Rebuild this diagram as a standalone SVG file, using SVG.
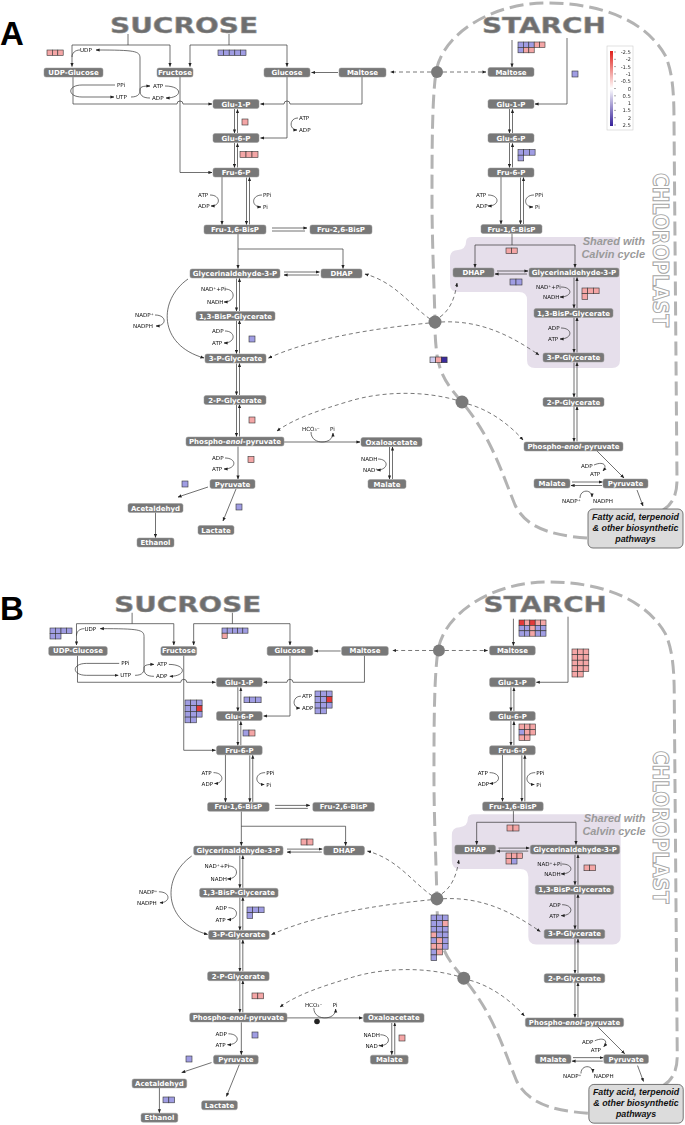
<svg xmlns="http://www.w3.org/2000/svg" xmlns:xlink="http://www.w3.org/1999/xlink" width="685" height="1125" viewBox="0 0 685 1125">
<defs>
<marker id="ah" viewBox="0 0 10 10" refX="9" refY="5" markerWidth="4" markerHeight="4" orient="auto" markerUnits="userSpaceOnUse"><path d="M0,1 L10,5 L0,9 z" fill="#222"/></marker>
<linearGradient id="lg" x1="0" y1="0" x2="0" y2="1"><stop offset="0" stop-color="#e0201b"/><stop offset="0.5" stop-color="#fff"/><stop offset="1" stop-color="#35209a"/></linearGradient>
<filter id="gray" x="0" y="0" width="1" height="1" color-interpolation-filters="sRGB"><feColorMatrix type="saturate" values="0"/></filter>
<style>
.n rect{fill:#787878;stroke:#9a9a9a;stroke-width:.5;rx:2px;ry:2px}
.n text{font-family:"DejaVu Sans",sans-serif;font-weight:bold;font-size:7px;fill:#fff;text-anchor:middle}
.l path{stroke:#333;stroke-width:.7;fill:none}
.l path.a{marker-end:url(#ah)}
.l path.d{stroke:#555;stroke-width:.8;stroke-dasharray:4 3;marker-end:url(#ah)}
.circ{fill:#7a7a7a}
.s{filter:url(#gray)}
.s text{font-family:"DejaVu Sans",sans-serif;font-size:5.6px;fill:#111}
.hm rect{stroke:#333;stroke-width:.6}
.cp{fill:#f4a6a6}.cb{fill:#a09de3}.cr{fill:#e23a3a}.cd{fill:#3b2b9c}.cl{fill:#cfcdf0}
.title{font-family:"DejaVu Sans",sans-serif;font-weight:bold;font-size:20.5px;fill:#6e6e6e;stroke:#9a9a9a;stroke-width:.5}
.chl{font-family:"DejaVu Sans",sans-serif;font-weight:bold;font-size:22px;fill:#fff;stroke:#a5a5a5;stroke-width:1}
.shared{font-family:"Liberation Sans",sans-serif;font-weight:bold;font-style:italic;font-size:11px;fill:#9a9a9a;text-anchor:end}
.fa text{font-family:"Liberation Sans",sans-serif;font-weight:bold;font-style:italic;font-size:8.9px;fill:#111;text-anchor:middle}
.plet{font-family:"Liberation Sans",sans-serif;font-weight:bold;font-size:33px;fill:#000}
.legt{filter:url(#gray)}
.legt text{font-family:"DejaVu Sans",sans-serif;font-size:5.3px;fill:#333;text-anchor:end}
</style>
</defs>
<rect width="685" height="1125" fill="#fff"/>
<text class="plet" x="0" y="45">A</text>
<text class="plet" x="0" y="620">B</text>

<g id="panel-a">
<path id="a-chloro" d="M587,538 C545,535 525,525 515,505 C505,480 500,465 490,445 C480,425 470,412 462,402 C448,386 440,375 437,355 C435,340 435,330 435,322 C434,280 432,240 432,200 C432,150 432,100 436,72 C442,35 490,3 547,3 C600,3 645,20 665,55 C672,70 674,90 674,120 L677,480 C677,495 672,505 663,510" fill="none" stroke="#b3b3b3" stroke-width="3" stroke-dasharray="14 6"/>
<path id="a-calvin" d="M472,237 H612 Q620,237 620,245 V360 Q620,368 612,368 H535 Q527,368 527,360 V300 Q527,292 519,292 H458 Q450,292 450,284 V258 Q450,250 458,250 Q466,249 466,242 Q466,237 472,237 Z" fill="#e6dfeb"/>
<text class="title" x="110" y="33" textLength="148" lengthAdjust="spacingAndGlyphs">SUCROSE</text>
<text class="title" x="482" y="33" textLength="124" lengthAdjust="spacingAndGlyphs">STARCH</text>
<text class="chl" transform="translate(653,173) rotate(90)" textLength="154" lengthAdjust="spacingAndGlyphs">CHLOROPLAST</text>
<text class="shared" x="645" y="245">Shared with</text>
<text class="shared" x="645" y="258">Calvin cycle</text>

<g id="a-connectors" class="l">
<path d="M128,34V45M72,45H170"/>
<path class="a" d="M72,45V66.5"/>
<path class="a" d="M170,45V66.5"/>
<path d="M229,34V45M190,45H287"/>
<path class="a" d="M190,45V66.5"/>
<path class="a" d="M287,45V66.5"/>
<path d="M80,50C75,50 72,53 72,57"/>
<path class="a" d="M140,90V58C140,51 135,50 96,50"/>
<path class="a" d="M131,97C139,97 140,93 140,90C140,87 142,86 150,86"/>
<path d="M140,90C140,95 142,98 150,98"/>
<path class="a" d="M115,85H82C67,85 67,97 82,97H114"/>
<path class="a" d="M165,86C183,86 183,98 166,98"/>
<path class="a" d="M73,77V104H177A3,3 0 0 1 183,104H212"/>
<path class="a" d="M180,77V172.5H212"/>
<path class="a" d="M287,77V138H260.5"/>
<path class="a" d="M298,118C289,118 289,130 297,130"/>
<path class="a" d="M362,77V104H290A3,3 0 0 0 284,104H260.5"/>
<path class="a" d="M338,72.5H311.5"/>
<path class="a" d="M234.5,109V133"/>
<path class="a" d="M237.5,133V109.5"/>
<path class="a" d="M234.5,143V167.5"/>
<path class="a" d="M237.5,167.5V143.5"/>
<path class="a" d="M222,177V224.5"/>
<path class="a" d="M210,195C221,195 221,206 211,206"/>
<path class="a" d="M246.5,177.5V224.5"/>
<path class="a" d="M249.5,224.5V177.5"/>
<path class="a" d="M262,195C251,195 251,207 261,207"/>
<path class="a" d="M272,228H307"/>
<path d="M272,231H305"/>
<path class="a" d="M238,234V268.5"/>
<path class="a" d="M238,249H343V268.5"/>
<path class="a" d="M284,272H319.5"/>
<path class="a" d="M319,275H284"/>
<path class="a" d="M236.5,278.5V311"/>
<path class="a" d="M239.5,311V278.5"/>
<path class="a" d="M225,289C236,289 236,302 224,302"/>
<path class="a" d="M236.5,320.5V353.5"/>
<path class="a" d="M239.5,353.5V320.5"/>
<path class="a" d="M225,331C236,331 236,343 224,343"/>
<path class="a" d="M188,279C158,300 158,345 204,358"/>
<path class="a" d="M155,315C167,315 167,326 156,326"/>
<path class="a" d="M236.5,363.5V395"/>
<path class="a" d="M239.5,395V363.5"/>
<path class="a" d="M236.5,404.5V436.5"/>
<path class="a" d="M239.5,436.5V404.5"/>
<path class="a" d="M238,446.5V479"/>
<path class="a" d="M225,458C237,458 237,469 224,469"/>
<path class="a" d="M284,442H360"/>
<path class="a" d="M311,432C311,440 318,442 322,442C328,442 333,439 333,433"/>
<path class="a" d="M389.5,447V479"/>
<path class="a" d="M392.5,479V447"/>
<path class="a" d="M378,459C389,459 389,470 377,470"/>
<path class="a" d="M208,487L178,497"/>
<path class="a" d="M236,489L223,521"/>
<path class="a" d="M155.5,512.5V537.5"/>
<path class="a" d="M512,40V67"/>
<path class="a" d="M567,38V104H535"/>
<path class="a" d="M509.5,109V133"/>
<path class="a" d="M512.5,133V109.5"/>
<path class="a" d="M509.5,143V167.5"/>
<path class="a" d="M512.5,167.5V143.5"/>
<path class="a" d="M501,177V224"/>
<path class="a" d="M488,195C500,195 500,206 488,206"/>
<path class="a" d="M520.5,177.5V224"/>
<path class="a" d="M523.5,224V177.5"/>
<path class="a" d="M534,195C523,195 523,207 533,207"/>
<path d="M512,233.5V245M475,245H575"/>
<path class="a" d="M475,245V267.5"/>
<path class="a" d="M575,245V267.5"/>
<path class="a" d="M497,271H528"/>
<path class="a" d="M527,274H495"/>
<path class="a" d="M574,277.5V308"/>
<path class="a" d="M577,308V277.5"/>
<path class="a" d="M561,287C573,287 573,297 560,297"/>
<path class="a" d="M574,317.5V352.5"/>
<path class="a" d="M577,352.5V317.5"/>
<path class="a" d="M561,328C573,328 573,339 560,339"/>
<path class="a" d="M574,362.5V397"/>
<path class="a" d="M577,397V362.5"/>
<path class="a" d="M574,406.5V441.5"/>
<path class="a" d="M577,441.5V406.5"/>
<path class="a" d="M597,451L624,478"/>
<path class="a" d="M594,465C603,461 608,465 603,471"/>
<path class="a" d="M572,482H602.5"/>
<path class="a" d="M602,485.5H571"/>
<path class="a" d="M580,498C580,489 592,489 592,497"/>
<path class="a" d="M637,490L643,506"/>
<path class="d" d="M431,72H390.5"/>
<path class="d" d="M443,72H486"/>
<path class="d" d="M430,319C410,305 395,282 365,274"/>
<path class="d" d="M429,323C390,327 320,335 268.5,358"/>
<path class="d" d="M440,317C450,310 455,298 457,283"/>
<path class="d" d="M441,322C480,320 510,335 539,355"/>
<path class="d" d="M456,400C420,390 380,392 350,401C320,410 295,418 277,431"/>
<path class="d" d="M468,404C490,410 510,425 523,440"/>
<circle class="circ" cx="437" cy="72" r="6"/>
<circle class="circ" cx="435" cy="322" r="6.5"/>
<circle class="circ" cx="462" cy="402" r="6.5"/>
</g>

<g id="a-udpglc" class="n"><rect x="44" y="68" width="59" height="9"/><text x="73.5" y="75">UDP-Glucose</text></g>
<g id="a-fructose" class="n"><rect x="157" y="68" width="36" height="9"/><text x="175" y="75">Fructose</text></g>
<g id="a-glucose" class="n"><rect x="264" y="68" width="46" height="9"/><text x="287" y="75">Glucose</text></g>
<g id="a-maltose-c" class="n"><rect x="339" y="68" width="47" height="9"/><text x="362.5" y="75">Maltose</text></g>
<g id="a-glu1p-c" class="n"><rect x="213" y="99.5" width="46" height="9"/><text x="236" y="106.5">Glu-1-P</text></g>
<g id="a-glu6p-c" class="n"><rect x="213" y="133.5" width="46" height="9"/><text x="236" y="140.5">Glu-6-P</text></g>
<g id="a-fru6p-c" class="n"><rect x="213" y="168" width="46" height="9"/><text x="236" y="175">Fru-6-P</text></g>
<g id="a-fbp-c" class="n"><rect x="204" y="225" width="62" height="9"/><text x="235" y="232">Fru-1,6-BisP</text></g>
<g id="a-f26bp" class="n"><rect x="310" y="225" width="62" height="9"/><text x="341" y="232">Fru-2,6-BisP</text></g>
<g id="a-gap-c" class="n"><rect x="190" y="269" width="90" height="9"/><text x="235" y="276">Glycerinaldehyde-3-P</text></g>
<g id="a-dhap-c" class="n"><rect x="321" y="269" width="41" height="9"/><text x="341.5" y="276">DHAP</text></g>
<g id="a-bpg-c" class="n"><rect x="196" y="311.5" width="79" height="9"/><text x="235.5" y="318.5">1,3-BisP-Glycerate</text></g>
<g id="a-pga3-c" class="n"><rect x="205" y="354" width="61" height="9"/><text x="235.5" y="361">3-P-Glycerate</text></g>
<g id="a-pga2-c" class="n"><rect x="204" y="395.5" width="62" height="9"/><text x="235" y="402.5">2-P-Glycerate</text></g>
<g id="a-pep-c" class="n"><rect x="186" y="437" width="98" height="9"/><text x="235" y="444">Phospho-<tspan font-style="italic">enol</tspan>-pyruvate</text></g>
<g id="a-oaa" class="n"><rect x="361" y="437.5" width="61" height="9"/><text x="391.5" y="444.5">Oxaloacetate</text></g>
<g id="a-malate-c" class="n"><rect x="368" y="479.5" width="38" height="9"/><text x="387" y="486.5">Malate</text></g>
<g id="a-pyr-c" class="n"><rect x="210" y="479.5" width="45" height="9"/><text x="232.5" y="486.5">Pyruvate</text></g>
<g id="a-acetald" class="n"><rect x="128" y="503.5" width="55" height="9"/><text x="155.5" y="510.5">Acetaldehyd</text></g>
<g id="a-lactate" class="n"><rect x="198" y="525.5" width="36" height="9"/><text x="216" y="532.5">Lactate</text></g>
<g id="a-ethanol" class="n"><rect x="137" y="538" width="37" height="9"/><text x="155.5" y="545">Ethanol</text></g>
<g id="a-maltose-p" class="n"><rect x="488" y="67.5" width="46" height="9"/><text x="511" y="74.5">Maltose</text></g>
<g id="a-glu1p-p" class="n"><rect x="488" y="99.5" width="46" height="9"/><text x="511" y="106.5">Glu-1-P</text></g>
<g id="a-glu6p-p" class="n"><rect x="488" y="133.5" width="46" height="9"/><text x="511" y="140.5">Glu-6-P</text></g>
<g id="a-fru6p-p" class="n"><rect x="488" y="168" width="46" height="9"/><text x="511" y="175">Fru-6-P</text></g>
<g id="a-fbp-p" class="n"><rect x="481" y="224.5" width="61" height="9"/><text x="511.5" y="231.5">Fru-1,6-BisP</text></g>
<g id="a-dhap-p" class="n"><rect x="453" y="268" width="41" height="9"/><text x="473.5" y="275">DHAP</text></g>
<g id="a-gap-p" class="n"><rect x="529" y="268" width="90" height="9"/><text x="574" y="275">Glycerinaldehyde-3-P</text></g>
<g id="a-bpg-p" class="n"><rect x="534" y="308.5" width="79" height="9"/><text x="573.5" y="315.5">1,3-BisP-Glycerate</text></g>
<g id="a-pga3-p" class="n"><rect x="543" y="353" width="61" height="9"/><text x="573.5" y="360">3-P-Glycerate</text></g>
<g id="a-pga2-p" class="n"><rect x="543" y="397.5" width="61" height="9"/><text x="573.5" y="404.5">2-P-Glycerate</text></g>
<g id="a-pep-p" class="n"><rect x="524" y="442" width="99" height="9"/><text x="573.5" y="449">Phospho-<tspan font-style="italic">enol</tspan>-pyruvate</text></g>
<g id="a-malate-p" class="n"><rect x="534" y="479" width="36" height="9"/><text x="552" y="486">Malate</text></g>
<g id="a-pyr-p" class="n"><rect x="603" y="479" width="45" height="9"/><text x="625.5" y="486">Pyruvate</text></g>
<g id="a-fatty" class="fa"><rect x="588" y="509" width="95" height="39" rx="5" fill="#dcdcdc" stroke="#555" stroke-width=".8"/><text x="635.5" y="519.5">Fatty acid, terpenoid</text><text x="635.5" y="530.5">&amp; other biosynthetic</text><text x="635.5" y="541.5">pathways</text></g>

<g id="a-labels" class="s">
<text x="80" y="52">UDP</text><text x="117" y="87">PPi</text><text x="116" y="99">UTP</text>
<text x="153" y="88">ATP</text><text x="152" y="100">ADP</text>
<text x="299" y="120">ATP</text><text x="299" y="132">ADP</text>
<text x="198" y="197">ATP</text><text x="198" y="208">ADP</text>
<text x="263" y="197">PPi</text><text x="263" y="209">Pi</text>
<text x="201" y="291">NAD⁺+Pi</text><text x="207" y="304">NADH</text>
<text x="212" y="333">ADP</text><text x="212" y="345">ATP</text>
<text x="135" y="317">NADP⁺</text><text x="133" y="328">NADPH</text>
<text x="212" y="460">ADP</text><text x="212" y="471">ATP</text>
<text x="302" y="431">HCO₃⁻</text><text x="330" y="431">Pi</text>
<text x="361" y="461">NADH</text><text x="363" y="472">NAD⁺</text>
<text x="476" y="197">ATP</text><text x="476" y="208">ADP</text>
<text x="535" y="197">PPi</text><text x="535" y="209">Pi</text>
<text x="536" y="289">NAD⁺+Pi</text><text x="543" y="299">NADH</text>
<text x="548" y="330">ADP</text><text x="548" y="341">ATP</text>
<text x="581" y="468">ADP</text><text x="590" y="476">ATP</text>
<text x="562" y="503">NADP⁺</text><text x="593" y="503">NADPH</text>
</g>

<g id="a-heatmaps" class="hm">
<rect class="cp" x="47" y="50" width="5.4" height="5.4"/><rect class="cp" x="52.4" y="50" width="5.4" height="5.4"/><rect class="cp" x="57.8" y="50" width="5.4" height="5.4"/>
<rect class="cb" x="218" y="50" width="5.6" height="5.6"/><rect class="cb" x="223.6" y="50" width="5.6" height="5.6"/><rect class="cb" x="229.2" y="50" width="5.6" height="5.6"/><rect class="cb" x="234.8" y="50" width="5.6" height="5.6"/><rect class="cb" x="240.4" y="50" width="5.6" height="5.6"/>
<rect class="cp" x="242" y="119" width="6" height="6"/>
<rect class="cp" x="240" y="151.5" width="6" height="6"/><rect class="cp" x="246" y="151.5" width="6" height="6"/><rect class="cp" x="252" y="151.5" width="6" height="6"/>
<rect class="cb" x="518" y="42" width="5.4" height="5.4"/><rect class="cb" x="523.4" y="42" width="5.4" height="5.4"/><rect class="cb" x="528.8" y="42" width="5.4" height="5.4"/><rect class="cp" x="534.2" y="42" width="5.4" height="5.4"/><rect class="cp" x="539.6" y="42" width="5.4" height="5.4"/>
<rect class="cb" x="518" y="47.4" width="5.4" height="5.4"/><rect class="cp" x="523.4" y="47.4" width="5.4" height="5.4"/><rect class="cp" x="528.8" y="47.4" width="5.4" height="5.4"/>
<rect class="cb" x="572" y="71" width="6" height="6"/>
<rect class="cb" x="518" y="149.5" width="5.7" height="5.7"/><rect class="cb" x="523.7" y="149.5" width="5.7" height="5.7"/><rect class="cb" x="529.4" y="149.5" width="5.7" height="5.7"/><rect class="cb" x="518" y="155.2" width="5.7" height="5.7"/>
<rect class="cp" x="506" y="248" width="5.6" height="5.6"/><rect class="cp" x="511.6" y="248" width="5.6" height="5.6"/>
<rect class="cb" x="510" y="279" width="6" height="6"/><rect class="cb" x="516" y="279" width="6" height="6"/>
<rect class="cp" x="582" y="288" width="5.7" height="5.7"/><rect class="cp" x="587.7" y="288" width="5.7" height="5.7"/><rect class="cp" x="593.4" y="288" width="5.7" height="5.7"/><rect class="cp" x="582" y="293.7" width="5.7" height="5.7"/>
<rect class="cb" x="249" y="336" width="6" height="6"/>
<rect class="cl" x="430" y="357" width="5.7" height="5.7"/><rect class="cp" x="435.7" y="357" width="5.7" height="5.7"/><rect class="cd" x="441.4" y="357" width="5.7" height="5.7"/>
<rect class="cp" x="249" y="417" width="6" height="6"/>
<rect class="cp" x="248" y="456.5" width="6" height="6"/>
<rect class="cb" x="182" y="481" width="6" height="6"/>
<rect class="cb" x="236" y="504" width="6" height="6"/>
</g>

<g id="legend">
<rect x="607" y="46" width="26" height="84" fill="#fff" stroke="#ccc" stroke-width=".6"/>
<rect x="610" y="51" width="3" height="75" fill="url(#lg)"/>
<path d="M614,52H616M614,59.3H616M614,66.6H616M614,73.9H616M614,81.2H616M614,88.5H616M614,95.8H616M614,103.1H616M614,110.4H616M614,117.7H616M614,125H616" stroke="#555" stroke-width=".5"/>
<g class="legt"><text x="631" y="54">-2.5</text><text x="631" y="61.3">-2</text><text x="631" y="68.6">-1.5</text><text x="631" y="75.9">-1</text><text x="631" y="83.2">-0.5</text><text x="631" y="90.5">0</text><text x="631" y="97.8">0.5</text><text x="631" y="105.1">1</text><text x="631" y="112.4">1.5</text><text x="631" y="119.7">2</text><text x="631" y="127">2.5</text></g>
</g>
</g>

<g id="panel-b" transform="translate(5,579) scale(0.993)">
<use href="#a-chloro"/>
<use href="#a-calvin"/>
<text class="title" x="110" y="33" textLength="148" lengthAdjust="spacingAndGlyphs">SUCROSE</text>
<text class="title" x="482" y="33" textLength="124" lengthAdjust="spacingAndGlyphs">STARCH</text>
<text class="chl" transform="translate(653,173) rotate(90)" textLength="154" lengthAdjust="spacingAndGlyphs">CHLOROPLAST</text>
<text class="shared" x="645" y="245">Shared with</text>
<text class="shared" x="645" y="258">Calvin cycle</text>
<g id="b-connectors"><use href="#a-connectors"/></g>
<g id="b-udpglc" class="n"><rect x="44" y="68" width="59" height="9"/><text x="73.5" y="75">UDP-Glucose</text></g>
<g id="b-fructose" class="n"><rect x="157" y="68" width="36" height="9"/><text x="175" y="75">Fructose</text></g>
<g id="b-glucose" class="n"><rect x="264" y="68" width="46" height="9"/><text x="287" y="75">Glucose</text></g>
<g id="b-maltose-c" class="n"><rect x="339" y="68" width="47" height="9"/><text x="362.5" y="75">Maltose</text></g>
<g id="b-glu1p-c" class="n"><rect x="213" y="99.5" width="46" height="9"/><text x="236" y="106.5">Glu-1-P</text></g>
<g id="b-glu6p-c" class="n"><rect x="213" y="133.5" width="46" height="9"/><text x="236" y="140.5">Glu-6-P</text></g>
<g id="b-fru6p-c" class="n"><rect x="213" y="168" width="46" height="9"/><text x="236" y="175">Fru-6-P</text></g>
<g id="b-fbp-c" class="n"><rect x="204" y="225" width="62" height="9"/><text x="235" y="232">Fru-1,6-BisP</text></g>
<g id="b-f26bp" class="n"><rect x="310" y="225" width="62" height="9"/><text x="341" y="232">Fru-2,6-BisP</text></g>
<g id="b-gap-c" class="n"><rect x="190" y="269" width="90" height="9"/><text x="235" y="276">Glycerinaldehyde-3-P</text></g>
<g id="b-dhap-c" class="n"><rect x="321" y="269" width="41" height="9"/><text x="341.5" y="276">DHAP</text></g>
<g id="b-bpg-c" class="n"><rect x="196" y="311.5" width="79" height="9"/><text x="235.5" y="318.5">1,3-BisP-Glycerate</text></g>
<g id="b-pga3-c" class="n"><rect x="205" y="354" width="61" height="9"/><text x="235.5" y="361">3-P-Glycerate</text></g>
<g id="b-pga2-c" class="n"><rect x="204" y="395.5" width="62" height="9"/><text x="235" y="402.5">2-P-Glycerate</text></g>
<g id="b-pep-c" class="n"><rect x="186" y="437" width="98" height="9"/><text x="235" y="444">Phospho-<tspan font-style="italic">enol</tspan>-pyruvate</text></g>
<g id="b-oaa" class="n"><rect x="361" y="437.5" width="61" height="9"/><text x="391.5" y="444.5">Oxaloacetate</text></g>
<g id="b-malate-c" class="n"><rect x="368" y="479.5" width="38" height="9"/><text x="387" y="486.5">Malate</text></g>
<g id="b-pyr-c" class="n"><rect x="210" y="479.5" width="45" height="9"/><text x="232.5" y="486.5">Pyruvate</text></g>
<g id="b-acetald" class="n"><rect x="128" y="503.5" width="55" height="9"/><text x="155.5" y="510.5">Acetaldehyd</text></g>
<g id="b-lactate" class="n"><rect x="198" y="525.5" width="36" height="9"/><text x="216" y="532.5">Lactate</text></g>
<g id="b-ethanol" class="n"><rect x="137" y="538" width="37" height="9"/><text x="155.5" y="545">Ethanol</text></g>
<g id="b-maltose-p" class="n"><rect x="488" y="67.5" width="46" height="9"/><text x="511" y="74.5">Maltose</text></g>
<g id="b-glu1p-p" class="n"><rect x="488" y="99.5" width="46" height="9"/><text x="511" y="106.5">Glu-1-P</text></g>
<g id="b-glu6p-p" class="n"><rect x="488" y="133.5" width="46" height="9"/><text x="511" y="140.5">Glu-6-P</text></g>
<g id="b-fru6p-p" class="n"><rect x="488" y="168" width="46" height="9"/><text x="511" y="175">Fru-6-P</text></g>
<g id="b-fbp-p" class="n"><rect x="481" y="224.5" width="61" height="9"/><text x="511.5" y="231.5">Fru-1,6-BisP</text></g>
<g id="b-dhap-p" class="n"><rect x="453" y="268" width="41" height="9"/><text x="473.5" y="275">DHAP</text></g>
<g id="b-gap-p" class="n"><rect x="529" y="268" width="90" height="9"/><text x="574" y="275">Glycerinaldehyde-3-P</text></g>
<g id="b-bpg-p" class="n"><rect x="534" y="308.5" width="79" height="9"/><text x="573.5" y="315.5">1,3-BisP-Glycerate</text></g>
<g id="b-pga3-p" class="n"><rect x="543" y="353" width="61" height="9"/><text x="573.5" y="360">3-P-Glycerate</text></g>
<g id="b-pga2-p" class="n"><rect x="543" y="397.5" width="61" height="9"/><text x="573.5" y="404.5">2-P-Glycerate</text></g>
<g id="b-pep-p" class="n"><rect x="524" y="442" width="99" height="9"/><text x="573.5" y="449">Phospho-<tspan font-style="italic">enol</tspan>-pyruvate</text></g>
<g id="b-malate-p" class="n"><rect x="534" y="479" width="36" height="9"/><text x="552" y="486">Malate</text></g>
<g id="b-pyr-p" class="n"><rect x="603" y="479" width="45" height="9"/><text x="625.5" y="486">Pyruvate</text></g>
<g id="b-fatty" class="fa"><rect x="588" y="509" width="95" height="39" rx="5" fill="#dcdcdc" stroke="#555" stroke-width=".8"/><text x="635.5" y="519.5">Fatty acid, terpenoid</text><text x="635.5" y="530.5">&amp; other biosynthetic</text><text x="635.5" y="541.5">pathways</text></g>
<g id="b-labels" class="s">
<text x="80" y="52">UDP</text><text x="117" y="87">PPi</text><text x="116" y="99">UTP</text>
<text x="153" y="88">ATP</text><text x="152" y="100">ADP</text>
<text x="299" y="120">ATP</text><text x="299" y="132">ADP</text>
<text x="198" y="197">ATP</text><text x="198" y="208">ADP</text>
<text x="263" y="197">PPi</text><text x="263" y="209">Pi</text>
<text x="201" y="291">NAD⁺+Pi</text><text x="207" y="304">NADH</text>
<text x="212" y="333">ADP</text><text x="212" y="345">ATP</text>
<text x="135" y="317">NADP⁺</text><text x="133" y="328">NADPH</text>
<text x="212" y="460">ADP</text><text x="212" y="471">ATP</text>
<text x="302" y="431">HCO₃⁻</text><text x="330" y="431">Pi</text>
<text x="361" y="461">NADH</text><text x="363" y="472">NAD⁺</text>
<text x="476" y="197">ATP</text><text x="476" y="208">ADP</text>
<text x="535" y="197">PPi</text><text x="535" y="209">Pi</text>
<text x="536" y="289">NAD⁺+Pi</text><text x="543" y="299">NADH</text>
<text x="548" y="330">ADP</text><text x="548" y="341">ATP</text>
<text x="581" y="468">ADP</text><text x="590" y="476">ATP</text>
<text x="562" y="503">NADP⁺</text><text x="593" y="503">NADPH</text>
</g>
</g>
<circle id="b-dot" cx="317" cy="1021.5" r="2.8" fill="#222"/>

<g id="b-heatmaps" class="hm">
<rect class="cb" x="50" y="628" width="5.5" height="5.5"/><rect class="cb" x="55.5" y="628" width="5.5" height="5.5"/><rect class="cb" x="61" y="628" width="5.5" height="5.5"/><rect class="cb" x="66.5" y="628" width="5.5" height="5.5"/><rect class="cb" x="50" y="633.5" width="5.5" height="5.5"/><rect class="cb" x="55.5" y="633.5" width="5.5" height="5.5"/>
<rect class="cb" x="222" y="628" width="5.2" height="5.2"/><rect class="cb" x="227.2" y="628" width="5.2" height="5.2"/><rect class="cb" x="232.4" y="628" width="5.2" height="5.2"/><rect class="cb" x="237.6" y="628" width="5.2" height="5.2"/><rect class="cb" x="242.8" y="628" width="5.2" height="5.2"/><rect class="cp" x="222" y="633.2" width="5.2" height="5.2"/>
<rect class="cb" x="244" y="697" width="5.7" height="5.7"/><rect class="cb" x="249.7" y="697" width="5.7" height="5.7"/><rect class="cb" x="255.4" y="697" width="5.7" height="5.7"/>
<rect class="cb" x="243" y="730" width="6" height="6"/><rect class="cp" x="249" y="730" width="6" height="6"/>
<rect class="cb" x="185" y="700" width="5.7" height="5.7"/><rect class="cb" x="190.7" y="700" width="5.7" height="5.7"/><rect class="cb" x="196.4" y="700" width="5.7" height="5.7"/>
<rect class="cb" x="185" y="705.7" width="5.7" height="5.7"/><rect class="cb" x="190.7" y="705.7" width="5.7" height="5.7"/><rect class="cr" x="196.4" y="705.7" width="5.7" height="5.7"/>
<rect class="cb" x="185" y="711.4" width="5.7" height="5.7"/><rect class="cb" x="190.7" y="711.4" width="5.7" height="5.7"/><rect class="cb" x="196.4" y="711.4" width="5.7" height="5.7"/>
<rect class="cb" x="185" y="717.1" width="5.7" height="5.7"/><rect class="cb" x="190.7" y="717.1" width="5.7" height="5.7"/>
<rect class="cb" x="315" y="691" width="5.7" height="5.7"/><rect class="cb" x="320.7" y="691" width="5.7" height="5.7"/><rect class="cb" x="326.4" y="691" width="5.7" height="5.7"/>
<rect class="cb" x="315" y="696.7" width="5.7" height="5.7"/><rect class="cb" x="320.7" y="696.7" width="5.7" height="5.7"/><rect class="cr" x="326.4" y="696.7" width="5.7" height="5.7"/>
<rect class="cb" x="315" y="702.4" width="5.7" height="5.7"/><rect class="cb" x="320.7" y="702.4" width="5.7" height="5.7"/><rect class="cb" x="326.4" y="702.4" width="5.7" height="5.7"/>
<rect class="cb" x="315" y="708.1" width="5.7" height="5.7"/><rect class="cb" x="320.7" y="708.1" width="5.7" height="5.7"/>
<rect class="cr" x="519" y="620" width="5.4" height="5.4"/><rect class="cp" x="524.4" y="620" width="5.4" height="5.4"/><rect class="cr" x="529.8" y="620" width="5.4" height="5.4"/><rect class="cp" x="535.2" y="620" width="5.4" height="5.4"/><rect class="cp" x="540.6" y="620" width="5.4" height="5.4"/>
<rect class="cb" x="519" y="625.4" width="5.4" height="5.4"/><rect class="cb" x="524.4" y="625.4" width="5.4" height="5.4"/><rect class="cp" x="529.8" y="625.4" width="5.4" height="5.4"/><rect class="cb" x="535.2" y="625.4" width="5.4" height="5.4"/><rect class="cb" x="540.6" y="625.4" width="5.4" height="5.4"/>
<rect class="cb" x="519" y="630.8" width="5.4" height="5.4"/><rect class="cb" x="524.4" y="630.8" width="5.4" height="5.4"/><rect class="cp" x="529.8" y="630.8" width="5.4" height="5.4"/><rect class="cb" x="535.2" y="630.8" width="5.4" height="5.4"/><rect class="cb" x="540.6" y="630.8" width="5.4" height="5.4"/>
<rect class="cp" x="572" y="649" width="5.6" height="5.6"/><rect class="cp" x="577.6" y="649" width="5.6" height="5.6"/><rect class="cp" x="583.2" y="649" width="5.6" height="5.6"/>
<rect class="cp" x="572" y="654.6" width="5.6" height="5.6"/><rect class="cp" x="577.6" y="654.6" width="5.6" height="5.6"/><rect class="cp" x="583.2" y="654.6" width="5.6" height="5.6"/>
<rect class="cp" x="572" y="660.2" width="5.6" height="5.6"/><rect class="cp" x="577.6" y="660.2" width="5.6" height="5.6"/><rect class="cp" x="583.2" y="660.2" width="5.6" height="5.6"/>
<rect class="cp" x="572" y="665.8" width="5.6" height="5.6"/><rect class="cp" x="577.6" y="665.8" width="5.6" height="5.6"/><rect class="cp" x="583.2" y="665.8" width="5.6" height="5.6"/>
<rect class="cp" x="572" y="671.4" width="5.6" height="5.6"/><rect class="cp" x="577.6" y="671.4" width="5.6" height="5.6"/>
<rect class="cp" x="519" y="724" width="5.5" height="5.5"/><rect class="cp" x="524.5" y="724" width="5.5" height="5.5"/><rect class="cp" x="530" y="724" width="5.5" height="5.5"/>
<rect class="cb" x="519" y="729.5" width="5.5" height="5.5"/><rect class="cp" x="524.5" y="729.5" width="5.5" height="5.5"/><rect class="cp" x="530" y="729.5" width="5.5" height="5.5"/>
<rect class="cp" x="519" y="735" width="5.5" height="5.5"/><rect class="cp" x="524.5" y="735" width="5.5" height="5.5"/>
<rect class="cp" x="301" y="839" width="6" height="6"/><rect class="cp" x="307" y="839" width="6" height="6"/>
<rect class="cb" x="247" y="907" width="5.7" height="5.7"/><rect class="cb" x="252.7" y="907" width="5.7" height="5.7"/><rect class="cb" x="258.4" y="907" width="5.7" height="5.7"/><rect class="cb" x="247" y="912.7" width="5.7" height="5.7"/>
<rect class="cp" x="507" y="825" width="6" height="6"/><rect class="cp" x="513" y="825" width="6" height="6"/>
<rect class="cp" x="506" y="853" width="5.5" height="5.5"/><rect class="cp" x="511.5" y="853" width="5.5" height="5.5"/><rect class="cp" x="517" y="853" width="5.5" height="5.5"/><rect class="cp" x="506" y="858.5" width="5.5" height="5.5"/><rect class="cb" x="511.5" y="858.5" width="5.5" height="5.5"/>
<rect class="cp" x="584" y="865" width="5.7" height="5.7"/><rect class="cp" x="589.7" y="865" width="5.7" height="5.7"/>
<rect class="cb" x="431" y="915" width="5.7" height="5.7"/><rect class="cb" x="436.7" y="915" width="5.7" height="5.7"/><rect class="cb" x="442.4" y="915" width="5.7" height="5.7"/>
<rect class="cb" x="431" y="920.7" width="5.7" height="5.7"/><rect class="cb" x="436.7" y="920.7" width="5.7" height="5.7"/><rect class="cp" x="442.4" y="920.7" width="5.7" height="5.7"/>
<rect class="cb" x="431" y="926.4" width="5.7" height="5.7"/><rect class="cb" x="436.7" y="926.4" width="5.7" height="5.7"/><rect class="cb" x="442.4" y="926.4" width="5.7" height="5.7"/>
<rect class="cp" x="431" y="932.1" width="5.7" height="5.7"/><rect class="cb" x="436.7" y="932.1" width="5.7" height="5.7"/><rect class="cb" x="442.4" y="932.1" width="5.7" height="5.7"/>
<rect class="cb" x="431" y="937.8" width="5.7" height="5.7"/><rect class="cp" x="436.7" y="937.8" width="5.7" height="5.7"/><rect class="cb" x="442.4" y="937.8" width="5.7" height="5.7"/>
<rect class="cp" x="431" y="943.5" width="5.7" height="5.7"/><rect class="cp" x="436.7" y="943.5" width="5.7" height="5.7"/><rect class="cb" x="442.4" y="943.5" width="5.7" height="5.7"/>
<rect class="cb" x="431" y="949.2" width="5.7" height="5.7"/><rect class="cp" x="436.7" y="949.2" width="5.7" height="5.7"/>
<rect class="cb" x="431" y="954.9" width="5.7" height="5.7"/>
<rect class="cp" x="252" y="993" width="5.8" height="5.8"/><rect class="cp" x="257.8" y="993" width="5.8" height="5.8"/>
<rect class="cb" x="252" y="1032" width="6" height="6"/>
<rect class="cb" x="186" y="1056" width="6" height="6"/>
<rect class="cb" x="163" y="1097" width="5.8" height="5.8"/><rect class="cb" x="168.8" y="1097" width="5.8" height="5.8"/>
<rect class="cp" x="399" y="1035" width="6" height="6"/>
</g>
</svg>
